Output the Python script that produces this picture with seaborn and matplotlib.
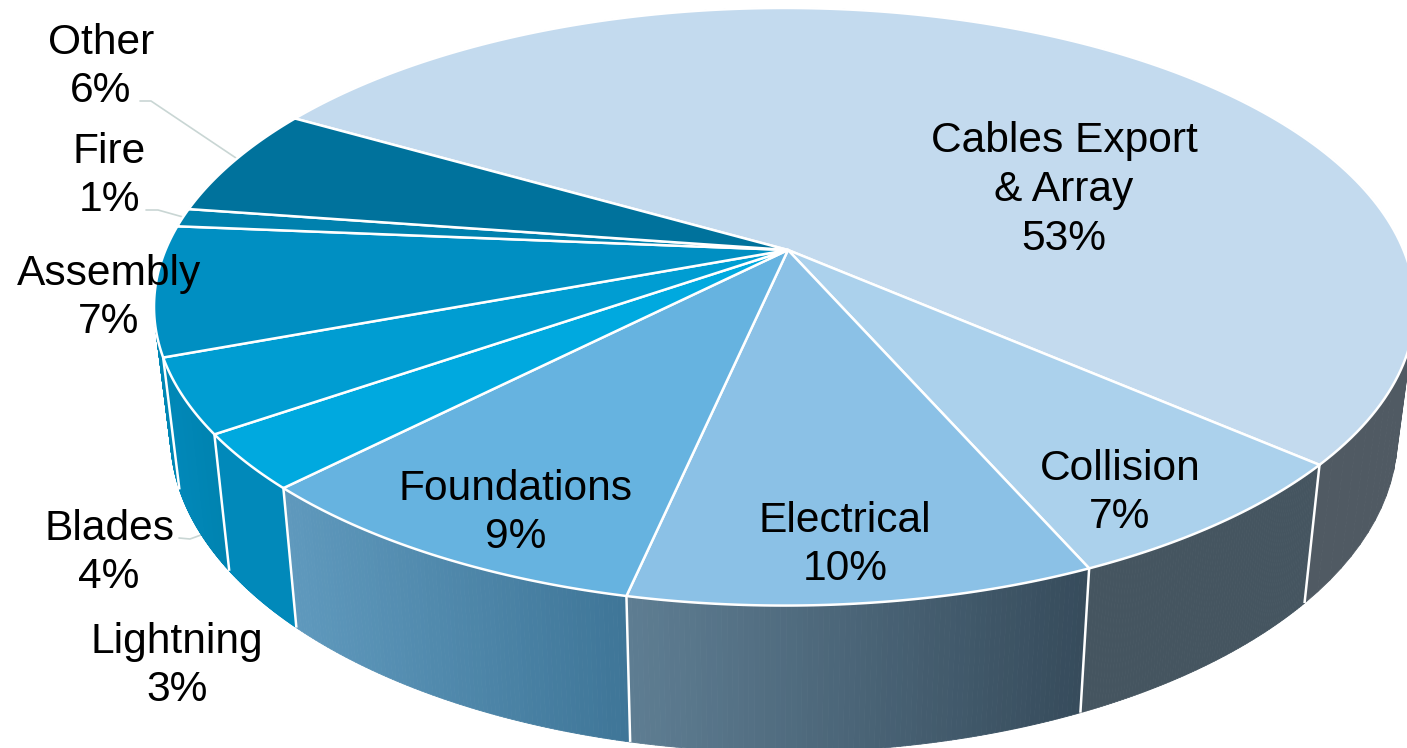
import numpy as np
import matplotlib
matplotlib.use("Agg")
import matplotlib.pyplot as plt
from matplotlib.collections import PolyCollection
from matplotlib.patches import Polygon
import seaborn as sns

# Share of failures by cause, in pie order (clockwise)
causes = ["Cables Export\n& Array", "Collision", "Electrical", "Foundations",
          "Lightning", "Blades", "Assembly", "Fire", "Other"]
shares = [53, 7, 10, 9, 3, 4, 7, 1, 6]

top_colors = ["#C3DAEE", "#ABD1EC", "#8BC1E6", "#66B3E0", "#00A9DF",
              "#009DD2", "#008FC2", "#0081AE", "#00729C"]
wall_left = ["#505A63", "#455560", "#5E7D92", "#5F99BD", "#0189BA",
             "#0188B9", "#0087B5", "#0081AE", "#00729C"]
wall_right = ["#505A63", "#455560", "#364B5B", "#3E7597", "#0189BA",
              "#0083B0", "#0087B5", "#0081AE", "#00729C"]

label_centers = [(1064, 190), (1120, 493), (845, 545), (516, 513), (177, 666),
                 (109, 553), (109, 298), (109, 176), (101, 67)]

leaders = [[(140, 101), (151, 101), (236, 158)],
           [(146, 210), (158, 210), (183, 217)],
           [(179, 538), (190, 539), (201, 535)]]

# Perspective model of the tilted disc, in figure pixels
APEX_X, APEX_Y = 788.0, 250.0
RIM_X = 784.5
RADIUS_X, RADIUS_Y, PERSPECTIVE = 619.0, 288.0, 0.19
START_DEG = 150.0


def top_rim(deg):
    t = np.radians(deg)
    x, y = np.cos(t), np.sin(t)
    w = 1 + PERSPECTIVE * y
    return RIM_X + RADIUS_X * x / w, APEX_Y - RADIUS_Y * y / w


def bottom_rim(px, py):
    return 765 + 0.973 * (px - 765), 1.0586 * py + 111


sns.set_theme(style="white")
plt.rcParams["font.family"] = ["Liberation Sans", "DejaVu Sans"]

fig = plt.figure(figsize=(14.07, 7.48), dpi=100)
ax = fig.add_axes([0, 0, 1, 1])
ax.set_xlim(0, 1407)
ax.set_ylim(748, 0)
ax.axis("off")

fractions = np.asarray(shares, dtype=float) / sum(shares)
edges = START_DEG - 360 * np.concatenate([[0], np.cumsum(fractions)])

# Side walls: thin quads shaded left to right across each slice
for i in range(len(shares)):
    deg = np.linspace(edges[i], edges[i + 1], 90)
    tx, ty = top_rim(deg)
    bx, by = bottom_rim(tx, ty)
    ramp = sns.blend_palette([wall_left[i], wall_right[i]], 64)
    lo, hi = tx.min(), tx.max()
    quads, fills = [], []
    for k in range(len(deg) - 1):
        quads.append([(tx[k], ty[k]), (tx[k + 1], ty[k + 1]),
                      (bx[k + 1], by[k + 1]), (bx[k], by[k])])
        pos = (0.5 * (tx[k] + tx[k + 1]) - lo) / max(hi - lo, 1)
        fills.append(ramp[int(pos * 63)])
    ax.add_collection(PolyCollection(quads, facecolors=fills, edgecolors=fills,
                                     linewidths=0.6, zorder=2))

# White seams between walls
for deg in edges[:-1]:
    tx, ty = top_rim(deg)
    if ty > 330:
        bx, by = bottom_rim(tx, ty)
        ax.plot([tx, bx], [ty, by], color="white", lw=1.8, zorder=3,
                solid_capstyle="butt")

# Top faces
for i in range(len(shares)):
    deg = np.linspace(edges[i], edges[i + 1], 180)
    tx, ty = top_rim(deg)
    pts = np.column_stack([np.r_[APEX_X, tx], np.r_[APEX_Y, ty]])
    ax.add_patch(Polygon(pts, closed=True, facecolor=top_colors[i],
                         edgecolor="white", linewidth=1.8, zorder=4,
                         joinstyle="round"))

# Leader lines for the labels set outside the disc
for path in leaders:
    xs, ys = zip(*path)
    ax.plot(xs, ys, color="#C9D6D4", lw=1.2, zorder=1)

for name, value, (cx, cy) in zip(causes, shares, label_centers):
    ax.text(cx, cy, f"{name}\n{value}%", ha="center", va="center",
            fontsize=30.6, color="black", linespacing=1.28, zorder=6)

fig.savefig("out.png", dpi=100, facecolor="white")
